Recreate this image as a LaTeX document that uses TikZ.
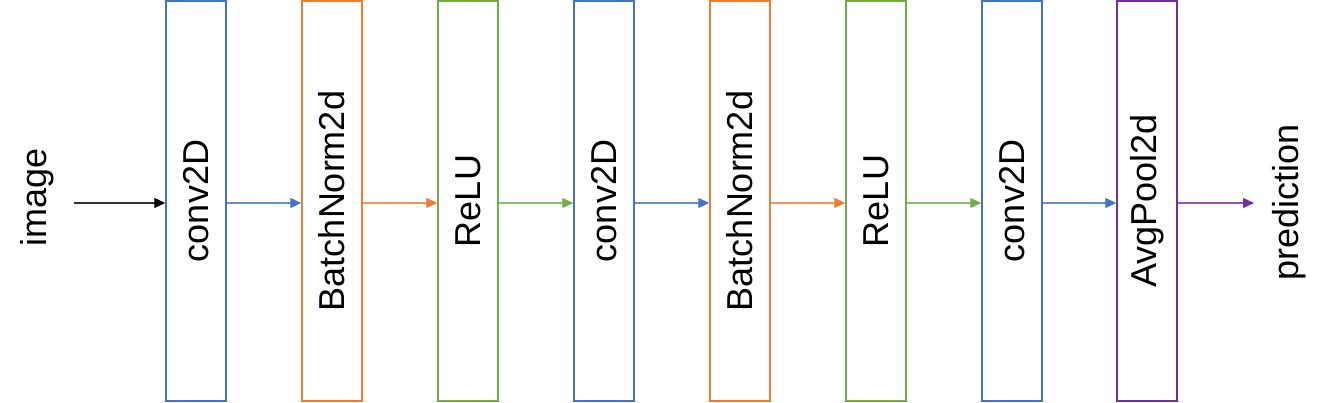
\documentclass[tikz,border=0pt]{standalone}
\usepackage{fontspec}
\setmainfont{Liberation Sans}
\usetikzlibrary{arrows.meta}
\definecolor{cblue}{HTML}{4472C4}
\definecolor{corange}{HTML}{ED7D31}
\definecolor{cgreen}{HTML}{70AD47}
\definecolor{cpurple}{HTML}{7030A0}
\begin{document}
\begin{tikzpicture}[x=1pt,y=1pt,
  blk/.style={draw=#1,line width=2pt,minimum width=59.5pt,minimum height=400pt,inner sep=0pt},
  lbl/.style={rotate=90,font=\fontsize{36}{40}\selectfont,inner sep=0pt},
  conn/.style={draw=#1!80,line width=1.3pt,-{Triangle[length=11pt,width=10pt,color=#1]}}]
\useasboundingbox (0,0) rectangle (1331,402);
\node[blk=cblue]   (b1) at (196,201) {};
\node[blk=corange] (b2) at (332,201) {};
\node[blk=cgreen]  (b3) at (468,201) {};
\node[blk=cblue]   (b4) at (604,201) {};
\node[blk=corange] (b5) at (740,201) {};
\node[blk=cgreen]  (b6) at (876,201) {};
\node[blk=cblue]   (b7) at (1012,201) {};
\node[blk=cpurple] (b8) at (1147,201) {};
\node[lbl] (t1) at (b1) {conv2D};
\node[lbl] (t2) at (b2) {BatchNorm2d};
\node[lbl] (t3) at (b3) {ReLU};
\node[lbl] (t4) at (b4) {conv2D};
\node[lbl] (t5) at (b5) {BatchNorm2d};
\node[lbl] (t6) at (b6) {ReLU};
\node[lbl] (t7) at (b7) {conv2D};
\node[lbl] (t8) at (b8) {AvgPool2d};
\node[lbl] (img) at (37,205) {image};
\node[lbl] (pred) at (1289,200) {prediction};
\coordinate (in0) at (74,199);
\coordinate (out0) at (1254,199);
\draw[conn=black] (in0) -- (b1.west |- in0);
\draw[conn=cblue]   (b1.east |- in0) -- (b2.west |- in0);
\draw[conn=corange] (b2.east |- in0) -- (b3.west |- in0);
\draw[conn=cgreen]  (b3.east |- in0) -- (b4.west |- in0);
\draw[conn=cblue]   (b4.east |- in0) -- (b5.west |- in0);
\draw[conn=corange] (b5.east |- in0) -- (b6.west |- in0);
\draw[conn=cgreen]  (b6.east |- in0) -- (b7.west |- in0);
\draw[conn=cblue]   (b7.east |- in0) -- (b8.west |- in0);
\draw[conn=cpurple] (b8.east |- in0) -- (out0);
\end{tikzpicture}
\end{document}
